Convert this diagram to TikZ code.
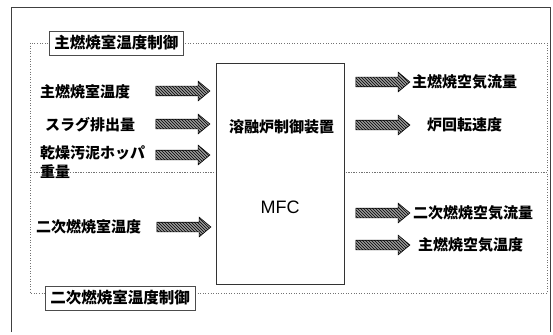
\documentclass[tikz,border=0pt]{standalone}
\usepackage{fontspec}
\newfontfamily\cjk{Noto Sans CJK JP}
\newfontfamily\latin{Liberation Sans}
\usetikzlibrary{shapes.arrows,patterns}
\tikzset{
  lbl/.style={font=\cjk\fontsize{15}{17}\selectfont\bfseries, inner sep=0pt, anchor=west},
  grptitle/.style={draw=black!70, line width=0.6pt, fill=white, font=\cjk\fontsize{15.5}{18}\selectfont\bfseries, inner xsep=5pt, inner ysep=3pt, minimum height=24pt, anchor=west},
  hatcharrow/.style={single arrow, draw=black, line width=0.6pt, fill=black!40,
    postaction={pattern=north west lines, pattern color=black},
    minimum height=54pt, minimum width=19pt, inner xsep=3pt, inner ysep=4.5pt,
    single arrow head extend=5pt, single arrow tip angle=80, anchor=center},
  grp/.style={draw=black!55, dotted, line width=0.6pt},
  frame/.style={draw=black!75, line width=0.7pt},
}
\begin{document}
\begin{tikzpicture}[x=1pt,y=-1pt]
\useasboundingbox (0,0) rectangle (553,334);
% outer frame (three sides)
\draw[frame] (11,332) -- (11,7) -- (550,7) -- (550,332);
% dotted control groups
\draw[grp] (30,43) rectangle (547,172);
\draw[grp] (30,172) rectangle (547,293);
% controller box
\node[draw=black!80, line width=0.8pt, fill=white, minimum width=128pt, minimum height=221pt, inner sep=0pt] (mfc) at (280,173.5) {};
\node[lbl, anchor=center] (name) at (281.5,127) {溶融炉制御装置};
\node[font=\latin\fontsize{18}{20}\selectfont, inner sep=0pt] (mfct) at (280,207) {MFC};
% group titles
\node[grptitle] (t1) at (49,43) {主燃焼室温度制御};
\node[grptitle] (t2) at (45,298) {二次燃焼室温度制御};
% inputs
\node[lbl] (i1) at (40,92) {主燃焼室温度};
\node[lbl] (i2) at (45,125) {スラグ排出量};
\node[lbl, align=left, anchor=north west, font=\cjk\fontsize{15}{19}\selectfont\bfseries] (i3) at (40,145) {乾燥汚泥ホッパ\\重量};
\node[lbl] (i4) at (36,227) {二次燃焼室温度};
\node[hatcharrow] (a1) at (180,91) {};
\node[hatcharrow] (a2) at (180,124) {};
\node[hatcharrow] (a3) at (180,155) {};
\node[hatcharrow] (a4) at (181,227) {};
% outputs
\node[hatcharrow] (b1) at (380,82) {};
\node[hatcharrow] (b2) at (380,125) {};
\node[hatcharrow] (b3) at (380,213) {};
\node[hatcharrow] (b4) at (380,245) {};
\node[lbl] (o1) at (412,82) {主燃焼空気流量};
\node[lbl] (o2) at (427,125) {炉回転速度};
\node[lbl] (o3) at (413,213) {二次燃焼空気流量};
\node[lbl] (o4) at (418,245) {主燃焼空気温度};
\end{tikzpicture}
\end{document}
